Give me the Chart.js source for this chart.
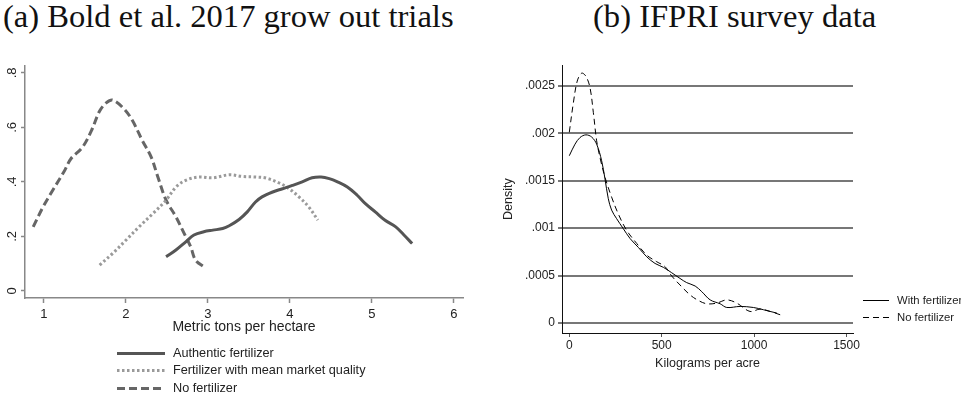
<!DOCTYPE html>
<html>
<head>
<meta charset="utf-8">
<script src="https://cdn.jsdelivr.net/npm/chart.js@4.4.1/dist/chart.umd.min.js"></script>
<style>
  body { margin:0; background:#fff; width:961px; height:397px; position:relative; overflow:hidden;
         font-family:"Liberation Sans", Arial, sans-serif; }
  .panel-title { position:absolute; top:0; font-family:"Liberation Serif", serif; font-size:32.6px;
                 line-height:1; color:#111; white-space:nowrap; }
  .chart-box { position:absolute; }
  .legend { position:absolute; color:#222; }
  .legend-row { display:flex; align-items:center; white-space:nowrap; }
</style>
</head>
<body>
<div class="panel-title" style="left:3px">(a) Bold et al. 2017 grow out trials</div>
<div class="panel-title" style="left:593px">(b) IFPRI survey data</div>

<div class="chart-box" style="left:0;top:55px;width:475px;height:286px"><canvas id="chart-a"></canvas></div>
<div class="chart-box" style="left:490px;top:55px;width:471px;height:319px"><canvas id="chart-b"></canvas></div>

<div class="legend" id="legend-a" style="left:117px;top:344px;font-size:12.7px"></div>
<div class="legend" id="legend-b" style="left:863px;top:292px;font-size:11.3px"></div>

<script>
// (a) grow out trials, metric tons per hectare
const authX = [2.49, 2.61, 2.73, 2.83, 2.95, 3.06, 3.18, 3.26, 3.38, 3.48, 3.58, 3.66, 3.79, 3.91,
               4.03, 4.15, 4.27, 4.38, 4.48, 4.58, 4.70, 4.82, 4.92, 5.04, 5.16, 5.29, 5.39, 5.49];
const authY = [0.125, 0.150, 0.180, 0.205, 0.217, 0.223, 0.229, 0.239, 0.262, 0.290, 0.326, 0.345, 0.363, 0.375,
               0.387, 0.400, 0.415, 0.418, 0.412, 0.400, 0.381, 0.351, 0.320, 0.290, 0.259, 0.235, 0.205, 0.174];

const mktX = [1.68, 1.84, 2.00, 2.16, 2.33, 2.49, 2.61, 2.73, 2.89, 3.06, 3.26, 3.42, 3.58, 3.71,
              3.87, 3.99, 4.11, 4.23, 4.34];
const mktY = [0.095, 0.138, 0.186, 0.235, 0.284, 0.333, 0.381, 0.406, 0.418, 0.415, 0.426, 0.420, 0.418, 0.414,
              0.396, 0.375, 0.345, 0.308, 0.260];

const noneX = [0.87, 0.99, 1.11, 1.25, 1.33, 1.47, 1.58, 1.68, 1.76, 1.84, 1.98, 2.08, 2.20, 2.31,
               2.39, 2.49, 2.61, 2.71, 2.79, 2.85, 2.96];
const noneY = [0.235, 0.308, 0.370, 0.440, 0.485, 0.527, 0.588, 0.660, 0.690, 0.700, 0.667, 0.625, 0.552, 0.490,
               0.418, 0.333, 0.272, 0.211, 0.162, 0.113, 0.086];

const labelsA = ['Authentic fertilizer', 'Fertilizer with mean market quality', 'No fertilizer'];
const xTicksA = [1, 2, 3, 4, 5, 6];
const yTicksA = [0, 0.2, 0.4, 0.6, 0.8];

// (b) survey data, kilograms per acre
const withX = [0, 31, 58, 90, 121, 148, 175, 193, 211, 229, 256, 292, 329, 374, 419, 464, 509, 554,
               599, 635, 681, 717, 762, 816, 852, 924, 996, 1051, 1087, 1123];
const withY = [0.001763, 0.001885, 0.001955, 0.001983, 0.00196, 0.001885, 0.00171, 0.00152, 0.00131,
               0.00119, 0.0011, 0.000995, 0.00089, 0.000796, 0.000698, 0.000628, 0.000587, 0.00053,
               0.00047, 0.000426, 0.00039, 0.00033, 0.000244, 0.000203, 0.000164, 0.000175, 0.000164,
               0.00014, 0.000122, 0.000105];

const noX = [0, 22, 43, 67, 90, 112, 130, 148, 166, 193, 229, 265, 310, 365, 419, 473, 518, 554,
             599, 653, 699, 744, 798, 852, 906, 978, 1033, 1087, 1141];
const noY = [0.00201, 0.00232, 0.00255, 0.002633, 0.0026, 0.00248, 0.00222, 0.00192, 0.001745,
             0.001536, 0.001327, 0.00115, 0.000978, 0.000838, 0.000716, 0.000646, 0.000594, 0.000496,
             0.000401, 0.000297, 0.000237, 0.000203, 0.00021, 0.000244, 0.00021, 0.000122, 0.000147,
             0.000122, 0.000087];

const labelsB = ['With fertilizer', 'No fertilizer'];
const xTicksB = [0, 500, 1000, 1500];
const yTicksB = [0, 0.0005, 0.001, 0.0015, 0.002, 0.0025];

const pts = (xs, ys) => xs.map((x, i) => ({ x, y: ys[i] }));
const fixTicks = list => scale => { scale.ticks = list.map(v => ({ value: v })); };
const stataNum = v => (v === 0 ? '0' : String(v).replace(/^0/, ''));

const lineDs = (label, data, color, width, dash) => ({
  label, data,
  borderColor: color, borderWidth: width, borderDash: dash,
  pointRadius: 0, tension: 0.35, fill: false,
});

const chartA = new Chart(document.getElementById('chart-a'), {
  type: 'line',
  data: {
    datasets: [
      lineDs(labelsA[0], pts(authX, authY), '#555', 3, []),
      lineDs(labelsA[1], pts(mktX, mktY), '#9a9a9a', 3, [2.5, 2.5]),
      lineDs(labelsA[2], pts(noneX, noneY), '#666', 3, [8, 4]),
    ],
  },
  options: {
    responsive: true, maintainAspectRatio: false, animation: false,
    layout: { padding: { top: 10, right: 12, left: 0, bottom: 0 } },
    plugins: { legend: { display: false }, tooltip: { enabled: false } },
    scales: {
      x: {
        type: 'linear', min: 0.77, max: 6.11,
        afterBuildTicks: fixTicks(xTicksA),
        afterFit: s => { s.height = 43; },
        border: { color: '#888', width: 1.5 },
        grid: { drawOnChartArea: false, tickLength: 5, tickColor: '#888', tickWidth: 1.5 },
        ticks: { color: '#222', font: { size: 13 }, padding: 4, maxRotation: 0,
                 callback: v => String(v) },
        title: { display: true, text: 'Metric tons per hectare', color: '#222',
                 font: { size: 14 }, padding: { top: 0, bottom: 5 } },
      },
      y: {
        type: 'linear', min: -0.026, max: 0.826,
        afterBuildTicks: fixTicks(yTicksA),
        afterFit: s => { s.width = 25; },
        border: { color: '#888', width: 1.5 },
        grid: { drawOnChartArea: false, tickLength: 4, tickColor: '#888', tickWidth: 1.5 },
        ticks: { color: '#222', font: { size: 13 }, padding: 3,
                 minRotation: 90, maxRotation: 90, crossAlign: 'center',
                 callback: v => stataNum(v) },
      },
    },
  },
});

const chartB = new Chart(document.getElementById('chart-b'), {
  type: 'line',
  data: {
    datasets: [
      lineDs(labelsB[0], pts(withX, withY), '#000', 1, []),
      lineDs(labelsB[1], pts(noX, noY), '#000', 1, [6, 4]),
    ],
  },
  options: {
    responsive: true, maintainAspectRatio: false, animation: false,
    layout: { padding: { top: 9, right: 108, left: 0, bottom: 0 } },
    plugins: { legend: { display: false }, tooltip: { enabled: false } },
    scales: {
      x: {
        type: 'linear', min: -39.5, max: 1535,
        afterBuildTicks: fixTicks(xTicksB),
        afterFit: s => { s.height = 41; },
        border: { color: '#111', width: 1 },
        grid: { drawOnChartArea: false, tickLength: 4, tickColor: '#555', tickWidth: 1 },
        ticks: { color: '#222', font: { size: 12 }, padding: 1, maxRotation: 0,
                 callback: v => String(v) },
        title: { display: true, text: 'Kilograms per acre', color: '#222',
                 font: { size: 12.5 }, padding: { top: 0, bottom: 3 } },
      },
      y: {
        type: 'linear', min: -0.000105, max: 0.002717,
        afterBuildTicks: fixTicks(yTicksB),
        afterFit: s => { s.width = 72; },
        border: { color: '#111', width: 1 },
        grid: { color: '#777', lineWidth: 2, tickLength: 4, tickColor: '#777', tickWidth: 2 },
        ticks: { color: '#222', font: { size: 12 }, padding: 3, callback: v => stataNum(v) },
        title: { display: true, text: 'Density', color: '#222',
                 font: { size: 12.5 }, padding: { top: 11, bottom: 0 } },
      },
    },
  },
});

// legend rows: a short line sample in each series' own stroke, then its label
function buildLegend(el, chart, sampleW, gap, rowH) {
  chart.data.datasets.forEach(ds => {
    const row = document.createElement('div');
    row.className = 'legend-row';
    row.style.height = rowH + 'px';
    const c = document.createElement('canvas');
    c.width = sampleW; c.height = 6;
    c.style.marginRight = gap + 'px';
    const g = c.getContext('2d');
    g.strokeStyle = ds.borderColor;
    g.lineWidth = ds.borderWidth;
    g.setLineDash(ds.borderDash || []);
    const mid = ds.borderWidth % 2 ? 3.5 : 3;
    g.beginPath(); g.moveTo(0, mid); g.lineTo(sampleW, mid); g.stroke();
    const t = document.createElement('span');
    t.textContent = ds.label;
    row.append(c, t);
    el.appendChild(row);
  });
}
buildLegend(document.getElementById('legend-a'), chartA, 48, 8, 17.5);
buildLegend(document.getElementById('legend-b'), chartB, 26, 8, 16.7);
</script>
</body>
</html>
